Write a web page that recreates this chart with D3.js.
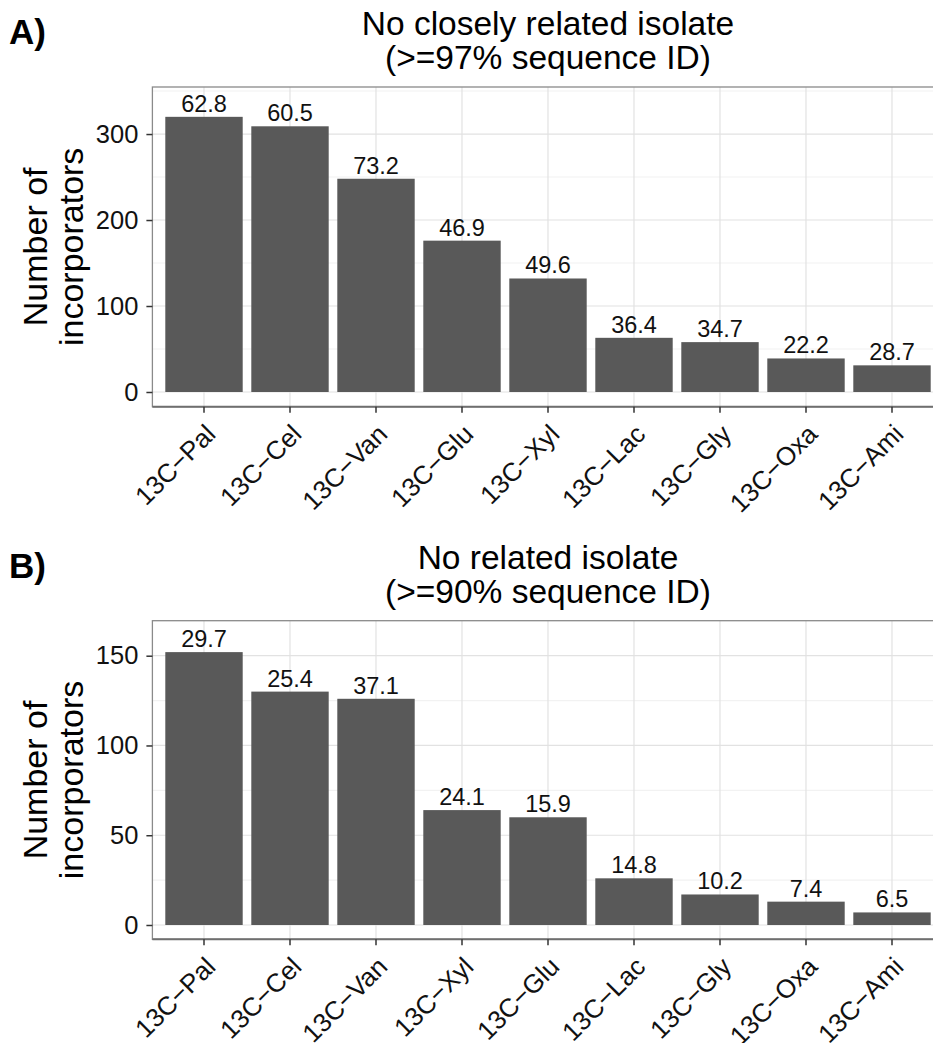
<!DOCTYPE html>
<html><head><meta charset="utf-8">
<script src="https://cdn.jsdelivr.net/npm/d3@7"></script>
<style>body{margin:0;background:#fff}</style>
</head><body>
<svg id="chart" width="933" height="1043"></svg>
<script>
// ---- data ----
const categoriesA = ["13C\u2212Pal","13C\u2212Cel","13C\u2212Van","13C\u2212Glu","13C\u2212Xyl","13C\u2212Lac","13C\u2212Gly","13C\u2212Oxa","13C\u2212Ami"];
const countsA = [320, 309, 248, 176, 132, 63, 58, 39, 31];
const labelsA = ["62.8","60.5","73.2","46.9","49.6","36.4","34.7","22.2","28.7"];
const yTicksA = [0, 100, 200, 300];
const yMinorA = [50, 150, 250, 350];
const titleA = ["No closely related isolate", "(>=97% sequence ID)"];

const categoriesB = ["13C\u2212Pal","13C\u2212Cel","13C\u2212Van","13C\u2212Xyl","13C\u2212Glu","13C\u2212Lac","13C\u2212Gly","13C\u2212Oxa","13C\u2212Ami"];
const countsB = [152, 130, 126, 64, 60, 26, 17, 13, 7];
const labelsB = ["29.7","25.4","37.1","24.1","15.9","14.8","10.2","7.4","6.5"];
const yTicksB = [0, 50, 100, 150];
const yMinorB = [25, 75, 125];
const titleB = ["No related isolate", "(>=90% sequence ID)"];

const yTitle = ["Number of", "incorporators"];

// ---- drawing ----
const FONT = "'Liberation Sans', Arial, Helvetica, sans-serif";
const svg = d3.select("#chart");
svg.append("rect").attr("width", 933).attr("height", 1043).attr("fill", "#fff");

function drawPanel(opts) {
  const {top, bottom, tag, title, cats, counts, labels, ticks, minor, domain} = opts;
  const left = 152.4, right = 943.6;
  const g = svg.append("g");

  const x = d3.scaleBand().domain(cats).range([left, right]).paddingInner(0.1).paddingOuter(0.15);
  const y = d3.scaleLinear().domain(domain).range([bottom, top]);
  const cx = c => x(c) + x.bandwidth() / 2;

  // minor grid
  g.selectAll(".minor").data(minor).join("line")
    .attr("x1", left).attr("x2", right)
    .attr("y1", d => y(d)).attr("y2", d => y(d))
    .attr("stroke", "#f2f2f2").attr("stroke-width", 1.1);
  // major grid
  g.selectAll(".majorY").data(ticks).join("line")
    .attr("x1", left).attr("x2", right)
    .attr("y1", d => y(d)).attr("y2", d => y(d))
    .attr("stroke", "#e2e2e2").attr("stroke-width", 1.2);
  g.selectAll(".majorX").data(cats).join("line")
    .attr("x1", d => cx(d)).attr("x2", d => cx(d))
    .attr("y1", top).attr("y2", bottom)
    .attr("stroke", "#e2e2e2").attr("stroke-width", 1.2);

  // bars
  g.selectAll(".bar").data(cats).join("rect")
    .attr("x", d => x(d)).attr("width", x.bandwidth())
    .attr("y", (d, i) => y(counts[i]))
    .attr("height", (d, i) => y(0) - y(counts[i]))
    .attr("fill", "#595959");

  // value labels
  g.selectAll(".val").data(cats).join("text")
    .attr("x", d => cx(d)).attr("y", (d, i) => y(counts[i]) - 5)
    .attr("text-anchor", "middle")
    .attr("font-family", FONT).attr("font-size", 23.5).attr("fill", "#111")
    .text((d, i) => labels[i]);

  // panel border
  g.append("rect").attr("x", left).attr("y", top)
    .attr("width", right - left).attr("height", bottom - top)
    .attr("fill", "none").attr("stroke", "#8a8a8a").attr("stroke-width", 1.3);
  // bottom axis line
  g.append("line").attr("x1", left).attr("x2", right)
    .attr("y1", bottom).attr("y2", bottom)
    .attr("stroke", "#6f6f6f").attr("stroke-width", 2);

  // y axis
  const yAxis = d3.axisLeft(y).tickValues(ticks).tickSize(6).tickPadding(8);
  const ya = g.append("g").attr("transform", `translate(${left},0)`).call(yAxis);
  ya.select(".domain").remove();
  ya.selectAll(".tick line").attr("stroke", "#333").attr("stroke-width", 1.5);
  ya.selectAll(".tick text").attr("font-family", FONT).attr("font-size", 25.5).attr("fill", "#111");

  // x axis ticks
  const xAxis = d3.axisBottom(x).tickSize(6).tickFormat("");
  const xa = g.append("g").attr("transform", `translate(0,${bottom})`).call(xAxis);
  xa.select(".domain").remove();
  xa.selectAll(".tick line").attr("stroke", "#333").attr("stroke-width", 1.5);
  // rotated x labels
  g.selectAll(".xl").data(cats).join("text")
    .attr("transform", d => `translate(${cx(d) + 13},${bottom + 29}) rotate(-45)`)
    .attr("text-anchor", "end")
    .attr("font-family", FONT).attr("font-size", 26).attr("fill", "#111")
    .text(d => d);

  // y title
  const midY = (top + bottom) / 2;
  [46.5, 82.5].forEach((bx, i) => {
    g.append("text")
      .attr("transform", `translate(${bx},${midY}) rotate(-90)`)
      .attr("text-anchor", "middle")
      .attr("font-family", FONT).attr("font-size", 34).attr("fill", "#000")
      .text(yTitle[i]);
  });

  // title
  const midX = (left + right) / 2;
  title.forEach((t, i) => {
    g.append("text").attr("x", midX).attr("y", top - 52 + i * 34)
      .attr("text-anchor", "middle")
      .attr("font-family", FONT).attr("font-size", 33.5).attr("fill", "#000")
      .text(t);
  });
  // tag
  g.append("text").attr("x", 9).attr("y", top - 43)
    .attr("font-family", FONT).attr("font-size", 35).attr("font-weight", "bold").attr("fill", "#000")
    .text(tag);
}

drawPanel({top: 87, bottom: 406.7, tag: "A)", title: titleA, cats: categoriesA, counts: countsA,
  labels: labelsA, ticks: yTicksA, minor: yMinorA, domain: [-17.1, 354.7]});
drawPanel({top: 620.7, bottom: 939.3, tag: "B)", title: titleB, cats: categoriesB, counts: countsB,
  labels: labelsB, ticks: yTicksB, minor: yMinorB, domain: [-7.97, 169.5]});
</script>
</body></html>
